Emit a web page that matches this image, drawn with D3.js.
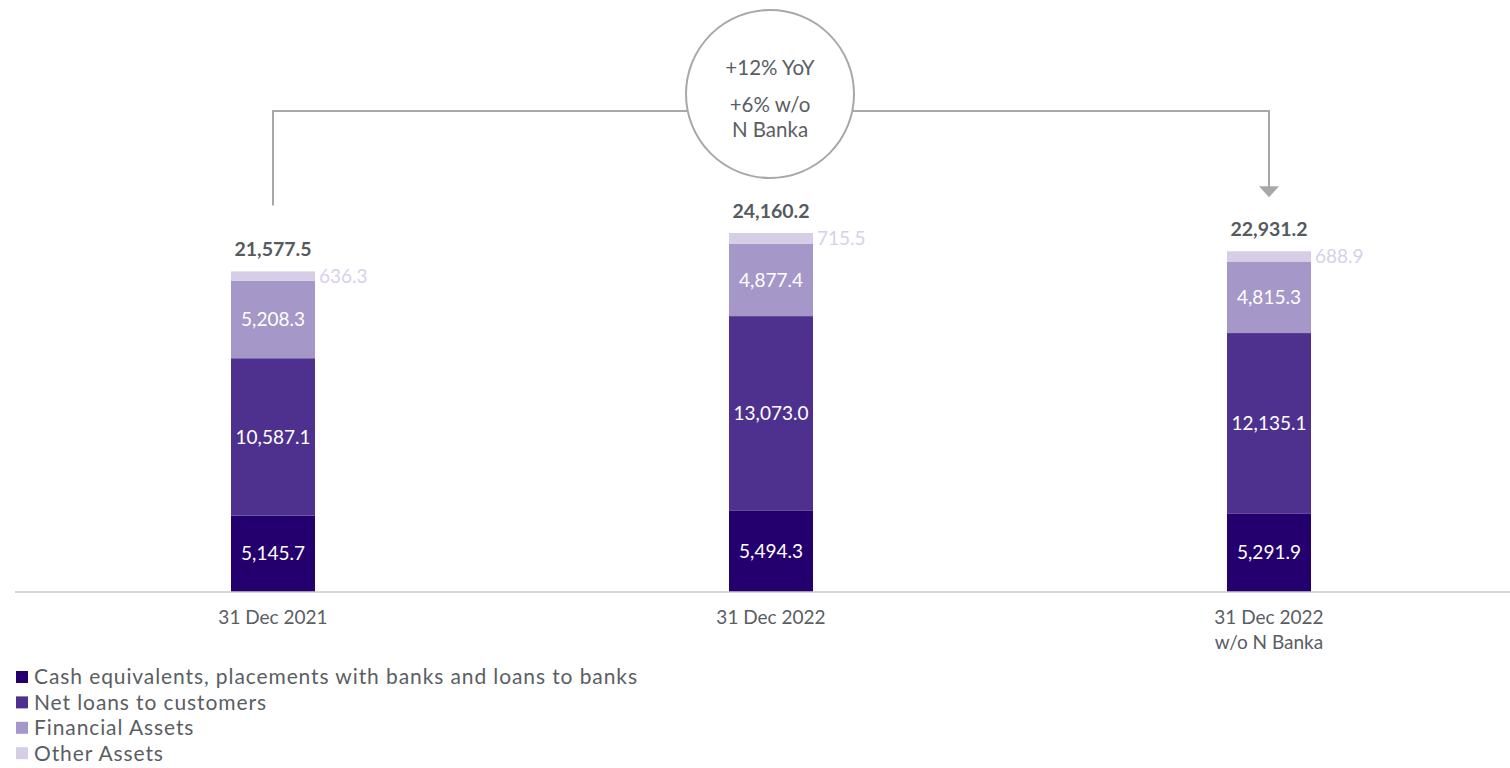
<!DOCTYPE html>
<html>
<head>
<meta charset="utf-8">
<script src="https://cdn.jsdelivr.net/npm/d3@7"></script>
<style>
  html, body { margin: 0; padding: 0; background: #fff; }
  svg { display: block; font-family: Lato, "Open Sans", sans-serif; }
</style>
</head>
<body>
<svg id="chart" width="1510" height="768"></svg>
<script>
// Total assets breakdown (EUR m)
const categories = ["31 Dec 2021", "31 Dec 2022", "31 Dec 2022\nw/o N Banka"];
const seriesNames = [
  "Cash equivalents, placements with banks and loans to banks",
  "Net loans to customers",
  "Financial Assets",
  "Other Assets"
];
const cashValues = [5145.7, 5494.3, 5291.9];
const loanValues = [10587.1, 13073.0, 12135.1];
const financialValues = [5208.3, 4877.4, 4815.3];
const otherValues = [636.3, 715.5, 688.9];
const totals = [21577.5, 24160.2, 22931.2];
const colors = ["#24006e", "#4e318f", "#a597c8", "#d6cde7"];
const growthLines = ["+12% YoY", "+6% w/o", "N Banka"];

const svg = d3.select("#chart");
const fmt = d3.format(",.1f");

const rows = categories.map((c, i) => ({
  cat: c,
  [seriesNames[0]]: cashValues[i],
  [seriesNames[1]]: loanValues[i],
  [seriesNames[2]]: financialValues[i],
  [seriesNames[3]]: otherValues[i],
  total: totals[i]
}));

const x = d3.scaleBand().domain(categories).range([31.8, 1510.2]).paddingInner(0.8313).paddingOuter(0.4);
const y = d3.scaleLinear().domain([0, 24160.2]).range([592, 233]);

const stack = d3.stack().keys(seriesNames);
const layers = stack(rows);

// stacked bars
const g = svg.append("g");
layers.forEach((layer, li) => {
  g.selectAll(null).data(layer).enter().append("rect")
    .attr("x", d => x(d.data.cat))
    .attr("width", x.bandwidth())
    .attr("y", d => y(d[1]))
    .attr("height", d => y(d[0]) - y(d[1]))
    .attr("fill", colors[li]);
});

// segment labels: inside for the first three, beside the bar for the last
layers.forEach((layer, li) => {
  if (li < 3) {
    g.selectAll(null).data(layer).enter().append("text")
      .attr("x", d => x(d.data.cat) + x.bandwidth() / 2)
      .attr("y", d => (y(d[0]) + y(d[1])) / 2)
      .attr("dy", "0.35em")
      .attr("text-anchor", "middle")
      .attr("fill", "#fff")
      .attr("font-size", 19)
      .text(d => fmt(d[1] - d[0]));
  } else {
    g.selectAll(null).data(layer).enter().append("text")
      .attr("x", d => x(d.data.cat) + x.bandwidth() + 4)
      .attr("y", d => (y(d[0]) + y(d[1])) / 2)
      .attr("dy", "0.35em")
      .attr("fill", "#d8d0ea")
      .attr("font-size", 19)
      .text(d => fmt(d[1] - d[0]));
  }
});

// totals above bars
g.selectAll(null).data(rows).enter().append("text")
  .attr("x", d => x(d.cat) + x.bandwidth() / 2)
  .attr("y", d => y(d.total) - 15)
  .attr("text-anchor", "middle")
  .attr("fill", "#555a5f")
  .attr("font-size", 19.5)
  .attr("font-weight", "bold")
  .text(d => fmt(d.total));

// baseline axis
const axis = d3.axisBottom(x).tickSize(0).tickFormat("");
const ax = svg.append("g").attr("transform", `translate(0,${y(0)})`).call(axis);
ax.select(".domain").attr("stroke", "#c8c8c8").attr("stroke-width", 1.5).attr("d", "M15,0H1510");

categories.forEach(c => {
  const t = svg.append("text")
    .attr("x", x(c) + x.bandwidth() / 2)
    .attr("y", 624)
    .attr("text-anchor", "middle")
    .attr("fill", "#5a5e63")
    .attr("font-size", 19);
  c.split("\n").forEach((line, k) => {
    t.append("tspan").attr("x", x(c) + x.bandwidth() / 2).attr("dy", k === 0 ? 0 : 25).text(line);
  });
});

// growth connector
const cx0 = x(categories[0]) + x.bandwidth() / 2;
const cx2 = x(categories[2]) + x.bandwidth() / 2;
const circleX = 770, circleY = 94, r = 84, lineY = 111;
const dx = Math.sqrt(r * r - (lineY - circleY) ** 2);
const conn = svg.append("g").attr("stroke", "#a8a8a8").attr("stroke-width", 2).attr("fill", "none");
conn.append("path").attr("d", `M${cx0},${y(totals[0]) - 66}V${lineY}H${circleX - dx}`);
conn.append("path").attr("d", `M${circleX + dx},${lineY}H${cx2}V${y(totals[2]) - 64}`);
svg.append("path")
  .attr("d", `M${cx2 - 10},${y(totals[2]) - 65}L${cx2 + 10},${y(totals[2]) - 65}L${cx2},${y(totals[2]) - 54}Z`)
  .attr("fill", "#a8a8a8");
svg.append("circle").attr("cx", circleX).attr("cy", circleY).attr("r", r)
  .attr("fill", "#fff").attr("stroke", "#a8a8a8").attr("stroke-width", 2);
const gy = [68, 105, 130];
growthLines.forEach((t, i) => {
  svg.append("text").attr("x", circleX).attr("y", gy[i]).attr("dy", "0.35em")
    .attr("text-anchor", "middle").attr("fill", "#5a5e63").attr("font-size", 20.5).text(t);
});

// legend
const leg = svg.append("g");
seriesNames.forEach((s, i) => {
  const ly = 677 + i * 25.4;
  leg.append("rect").attr("x", 16).attr("y", ly - 6).attr("width", 12).attr("height", 12).attr("fill", colors[i]);
  leg.append("text").attr("x", 34).attr("y", ly).attr("dy", "0.35em")
    .attr("fill", "#5a5e63").attr("font-size", 21).attr("letter-spacing", 0.9).text(s);
});
</script>
</body>
</html>
